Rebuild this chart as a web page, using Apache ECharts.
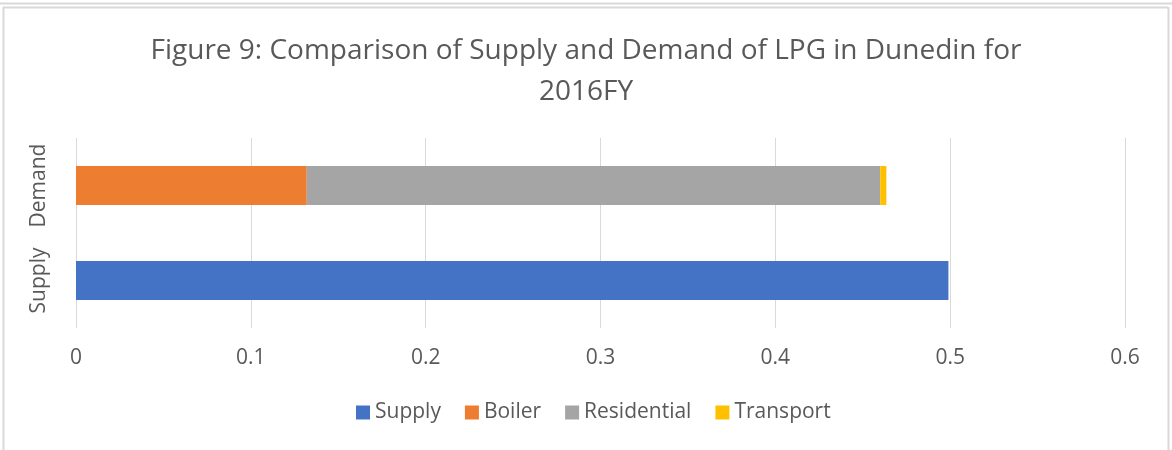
<!DOCTYPE html>
<html><head><meta charset="utf-8">
<script src="https://cdn.jsdelivr.net/npm/echarts@6/dist/echarts.min.js"></script>
<style>html,body{margin:0;padding:0;background:#fff}#c{width:1172px;height:450px}</style>
</head><body><div id="c"></div>
<script>
const categories = ['Supply', 'Demand'];
const supply = [0.499, null];
const boiler = [null, 0.132];
const residential = [null, 0.328];
const transport = [null, 0.0035];
const xTicks = [0, 0.1, 0.2, 0.3, 0.4, 0.5, 0.6];
const titleText = 'Figure 9: Comparison of Supply and Demand of LPG in Dunedin for\n2016FY';

const FONT = 'Open Sans';
const chart = echarts.init(document.getElementById('c'));
function s(name, data, color) {
  return { name, type: 'bar', stack: 'a', data, barWidth: 39, itemStyle: { color }, emphasis: { disabled: true } };
}
chart.setOption({
  animation: false,
  title: {
    text: titleText, left: 'center', top: 26,
    textStyle: { fontFamily: FONT, fontSize: 28, fontWeight: 'normal', color: '#595959', lineHeight: 41 }
  },
  grid: { left: 76, right: 47, top: 138, bottom: 122 },
  legend: {
    bottom: 22, left: 351, itemWidth: 14, itemHeight: 14, itemGap: 24, icon: 'rect',
    textStyle: { fontFamily: FONT, fontSize: 21, color: '#595959' },
    data: ['Supply', 'Boiler', 'Residential', 'Transport']
  },
  xAxis: {
    type: 'value', min: 0, max: 0.6, interval: 0.1,
    axisLine: { show: false }, axisTick: { show: false },
    splitLine: { lineStyle: { color: '#d9d9d9', width: 1 } },
    axisLabel: { fontFamily: FONT, fontSize: 21, color: '#595959', margin: 20,
      formatter: v => { const t = xTicks.find(x => Math.abs(x - v) < 1e-9); return t === undefined ? '' : String(t); } }
  },
  yAxis: {
    type: 'category', data: categories,
    axisLine: { show: false }, axisTick: { show: false },
    axisLabel: { rotate: 90, interval: 0, hideOverlap: false, fontFamily: FONT, fontSize: 21, color: '#595959', margin: 26 }
  },
  series: [
    s('Supply', supply, '#4472c4'),
    s('Boiler', boiler, '#ed7d31'),
    s('Residential', residential, '#a5a5a5'),
    s('Transport', transport, '#ffc000')
  ],
  graphic: [
    { type: 'line', shape: { x1: 0, y1: 3.5, x2: 1172, y2: 3.5 }, style: { stroke: '#d9d9d9', lineWidth: 2 } },
    { type: 'line', shape: { x1: 3, y1: 7.5, x2: 1168, y2: 7.5 }, style: { stroke: '#d9d9d9', lineWidth: 2 } },
    { type: 'line', shape: { x1: 3.5, y1: 7, x2: 3.5, y2: 450 }, style: { stroke: '#d9d9d9', lineWidth: 2 } },
    { type: 'line', shape: { x1: 1168.5, y1: 7, x2: 1168.5, y2: 450 }, style: { stroke: '#d9d9d9', lineWidth: 2 } }
  ]
});
</script></body></html>
